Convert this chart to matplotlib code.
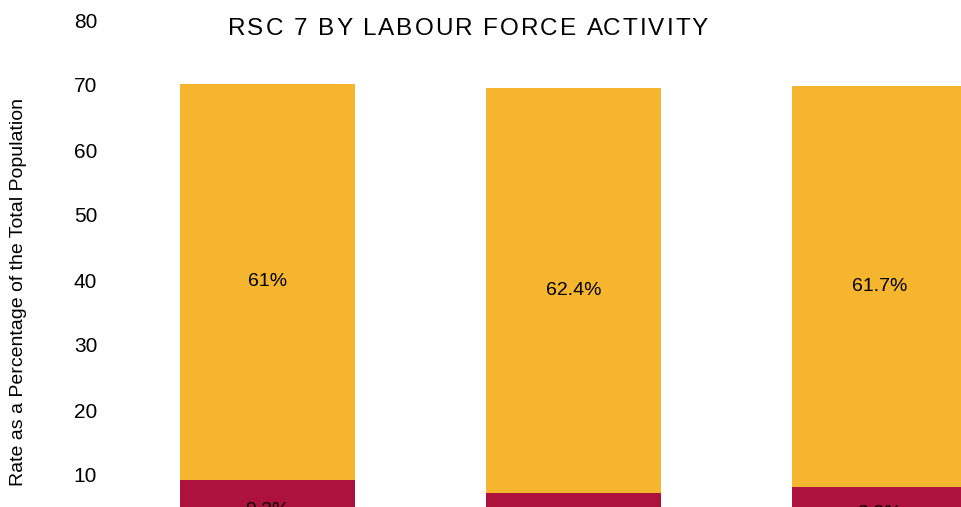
import matplotlib
matplotlib.use("Agg")
import matplotlib.pyplot as plt
from matplotlib.font_manager import FontProperties

plt.rcParams['font.family'] = ['Liberation Sans', 'DejaVu Sans']

# Labour force activity rates (% of total population)
categories = ["Participation", "Employment", "Unemployment"]
unemployed = [9.2, 7.2, 8.2]
employed = [61.0, 62.4, 61.7]
employed_labels = ["61%", "62.4%", "61.7%"]
unemployed_labels = ["9.2%", "7.2%", "8.2%"]
yticks = [10, 20, 30, 40, 50, 60, 70, 80]
title = "RSC 7 BY LABOUR FORCE ACTIVITY"

YELLOW = "#F5B52E"
RED = "#AD123C"

W, H = 961, 507
fig = plt.figure(figsize=(W / 100, H / 100), dpi=100)

# axes extend below the canvas so the baseline sits off-image
ax = fig.add_axes([100 / W, -33 / H, 861 / W, 520 / H])

x = list(range(len(categories)))
width = 0.572
ax.bar(x, unemployed, width=width, color=RED)
ax.bar(x, employed, width=width, bottom=unemployed, color=YELLOW)

for i in x:
    ax.text(i, unemployed[i] + employed[i] / 2, employed_labels[i],
            ha="center", va="center", fontsize=14, color="black")
    ax.text(i, unemployed[i] / 2, unemployed_labels[i],
            ha="center", va="center", fontsize=14, color="black")

ax.set_ylim(0, 80)
ax.set_xlim(-0.547, 2.266)
ax.set_yticks(yticks)
ax.set_yticklabels([str(t) for t in yticks], fontsize=15)
ax.tick_params(axis="y", length=0, pad=2)
ax.set_xticks([])
for s in ax.spines.values():
    s.set_visible(False)

fig.text(19 / W, 1 - 292 / H, "Rate as a Percentage of the Total Population",
         rotation=90, ha="center", va="center", fontsize=14)

# letter-spaced title, laid out character by character
renderer = fig.canvas.get_renderer()
prop = FontProperties(family=['Liberation Sans', 'DejaVu Sans'], size=17.5)
tracking = 2.0  # extra pixels between characters


def text_width(s):
    w, _, _ = renderer.get_text_width_height_descent(s, prop, ismath=False)
    return w


base = text_width("I")
offsets = [text_width(title[:i] + "I") - base + i * tracking for i in range(len(title))]
total = text_width(title) + (len(title) - 1) * tracking
x0 = 468 - total / 2
for ch, off in zip(title, offsets):
    if ch != " ":
        fig.text((x0 + off) / W, 1 - 29 / H, ch, ha="left", va="center",
                 fontproperties=prop)

fig.savefig("out.png", dpi=100)
